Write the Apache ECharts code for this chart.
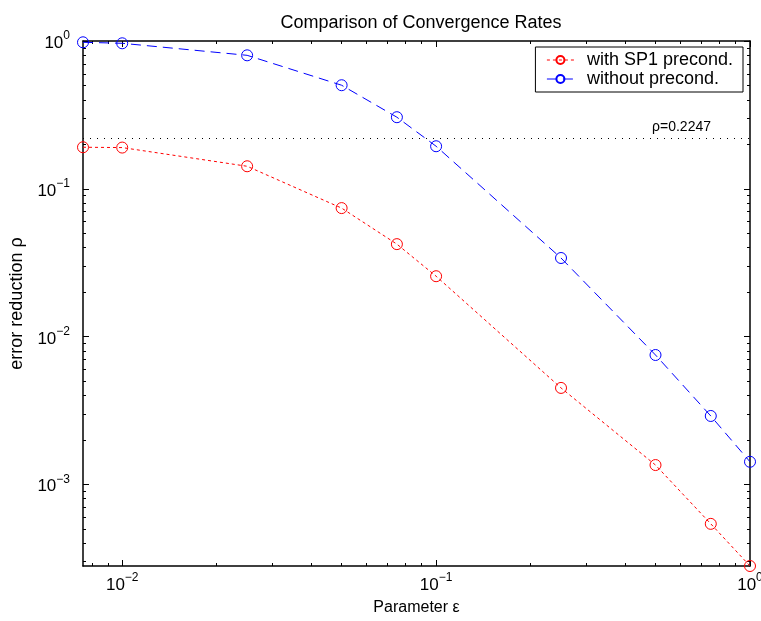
<!DOCTYPE html>
<html lang="en">
<head>
  <meta charset="UTF-8">
  <title>Comparison of Convergence Rates</title>
  <style>
    html, body { margin: 0; padding: 0; background: #fff; }
    #chart { width: 761px; height: 621px; }
  </style>
</head>
<body>
  <div id="chart"></div>
  <script src="https://cdn.jsdelivr.net/npm/echarts@6/dist/echarts.min.js"></script>
  <script>
    // parameter eps values
    var epsValues = [0.0075, 0.01, 0.025, 0.05, 0.075, 0.1, 0.25, 0.5, 0.75, 1];
    // error reduction with SP1 preconditioner
    var withSP1 = [0.191, 0.190, 0.142, 0.074, 0.0422, 0.0256, 0.00449, 0.00135, 0.00054, 0.00028];
    // error reduction without preconditioner
    var withoutPre = [0.98, 0.965, 0.80, 0.502, 0.305, 0.194, 0.034, 0.0075, 0.0029, 0.00142];
    var rhoLine = 0.2247;

    var xMajor = [0.01, 0.1, 1];
    var xMinor = [0.008, 0.009, 0.02, 0.03, 0.04, 0.05, 0.06, 0.07, 0.08, 0.09,
      0.2, 0.3, 0.4, 0.5, 0.6, 0.7, 0.8, 0.9];
    var yMajor = [0.001, 0.01, 0.1, 1];
    var yMinor = [0.0003, 0.0004, 0.0005, 0.0006, 0.0007, 0.0008, 0.0009,
      0.002, 0.003, 0.004, 0.005, 0.006, 0.007, 0.008, 0.009,
      0.02, 0.03, 0.04, 0.05, 0.06, 0.07, 0.08, 0.09,
      0.2, 0.3, 0.4, 0.5, 0.6, 0.7, 0.8, 0.9];

    var font = 'Liberation Sans, Arial, Helvetica, sans-serif';
    var black = '#000';

    function pairs(ys) {
      return epsValues.map(function (x, i) { return [x, ys[i]]; });
    }

    function powLabel(v) {
      var e = Math.round(Math.log(v) / Math.LN10);
      return '{b|10}{s|' + String(e).replace('-', '\u2212') + '}';
    }

    var labelRich = {
      b: { fontFamily: font, fontSize: 17, color: black, lineHeight: 22, verticalAlign: 'bottom' },
      s: { fontFamily: font, fontSize: 12, color: black, lineHeight: 22, verticalAlign: 'top', padding: [0, 0, 8, 0] }
    };

    function makeX(pos, ticks, len, withLabels) {
      return {
        type: 'log',
        logBase: 10,
        min: 0.0075,
        max: 1,
        position: pos,
        gridIndex: 0,
        axisLine: { show: withLabels || len > 4, onZero: false, lineStyle: { color: black, width: 1.5 } },
        axisTick: { show: true, inside: true, length: len, customValues: ticks, lineStyle: { color: black, width: 1 } },
        minorTick: { show: false },
        splitLine: { show: false },
        axisLabel: withLabels ? {
          show: true, customValues: xMajor, margin: 6, formatter: powLabel, rich: labelRich
        } : { show: false },
        name: withLabels ? 'Parameter \u03b5' : '',
        nameLocation: 'middle',
        nameGap: 34,
        nameTextStyle: { fontFamily: font, fontSize: 16, color: black }
      };
    }

    function makeY(pos, ticks, len, withLabels) {
      return {
        type: 'log',
        logBase: 10,
        min: 0.00028,
        max: 1,
        position: pos,
        gridIndex: 0,
        axisLine: { show: withLabels || len > 4, onZero: false, lineStyle: { color: black, width: 1.5 } },
        axisTick: { show: true, inside: true, length: len, customValues: ticks, lineStyle: { color: black, width: 1 } },
        minorTick: { show: false },
        splitLine: { show: false },
        axisLabel: withLabels ? {
          show: true, customValues: yMajor, margin: 13, formatter: powLabel, rich: labelRich
        } : { show: false },
        name: withLabels ? 'error reduction \u03c1' : '',
        nameLocation: 'middle',
        nameGap: 50,
        nameTextStyle: { fontFamily: font, fontSize: 18, color: black }
      };
    }

    var chart = echarts.init(document.getElementById('chart'));
    chart.setOption({
      backgroundColor: '#fff',
      animation: false,
      title: {
        text: 'Comparison of Convergence Rates',
        left: 416,
        top: 9,
        textAlign: 'center',
        textStyle: { fontFamily: font, fontSize: 18, fontWeight: 'normal', color: black }
      },
      grid: { left: 83, right: 11, top: 41, bottom: 55, outerBoundsMode: 'none', containLabel: false },
      legend: {
        orient: 'vertical',
        right: 18,
        top: 47,
        padding: [4, 10, 4, 11],
        itemGap: 1,
        itemWidth: 27,
        itemHeight: 10,
        backgroundColor: '#fff',
        borderColor: black,
        borderWidth: 1,
        borderRadius: 0,
        lineStyle: { width: 1 },
        textStyle: { fontFamily: font, fontSize: 18, color: black, padding: [0, 0, 0, 8] },
        data: ['with SP1 precond.', 'without precond.']
      },
      xAxis: [
        makeX('bottom', xMajor, 6, true),
        makeX('bottom', xMinor, 3, false),
        makeX('top', xMajor, 6, false),
        makeX('top', xMinor, 3, false)
      ],
      yAxis: [
        makeY('left', yMajor, 6, true),
        makeY('left', yMinor, 3, false),
        makeY('right', yMajor, 6, false),
        makeY('right', yMinor, 3, false)
      ],
      series: [
        {
          name: 'with SP1 precond.',
          type: 'line',
          xAxisIndex: 0,
          yAxisIndex: 0,
          data: pairs(withSP1),
          symbol: 'circle',
          symbolSize: 11,
          clip: false,
          lineStyle: { color: '#ff0000', width: 1, type: [3, 3] },
          itemStyle: { color: 'rgba(255,255,255,0)', borderColor: '#ff0000', borderWidth: 1 },
          markLine: {
            silent: true,
            symbol: 'none',
            lineStyle: { color: black, width: 1, type: [1, 6] },
            label: {
              show: true,
              position: 'insideEndTop',
              distance: [39, 4],
              fontFamily: font,
              fontSize: 14,
              color: black,
              formatter: '\u03c1=' + rhoLine
            },
            data: [{ yAxis: rhoLine }]
          }
        },
        {
          name: 'without precond.',
          type: 'line',
          xAxisIndex: 0,
          yAxisIndex: 0,
          data: pairs(withoutPre),
          symbol: 'circle',
          symbolSize: 11,
          clip: false,
          lineStyle: { color: '#0000ff', width: 1, type: [10, 6] },
          itemStyle: { color: 'rgba(255,255,255,0)', borderColor: '#0000ff', borderWidth: 1 }
        }
      ]
    });
  </script>
</body>
</html>
